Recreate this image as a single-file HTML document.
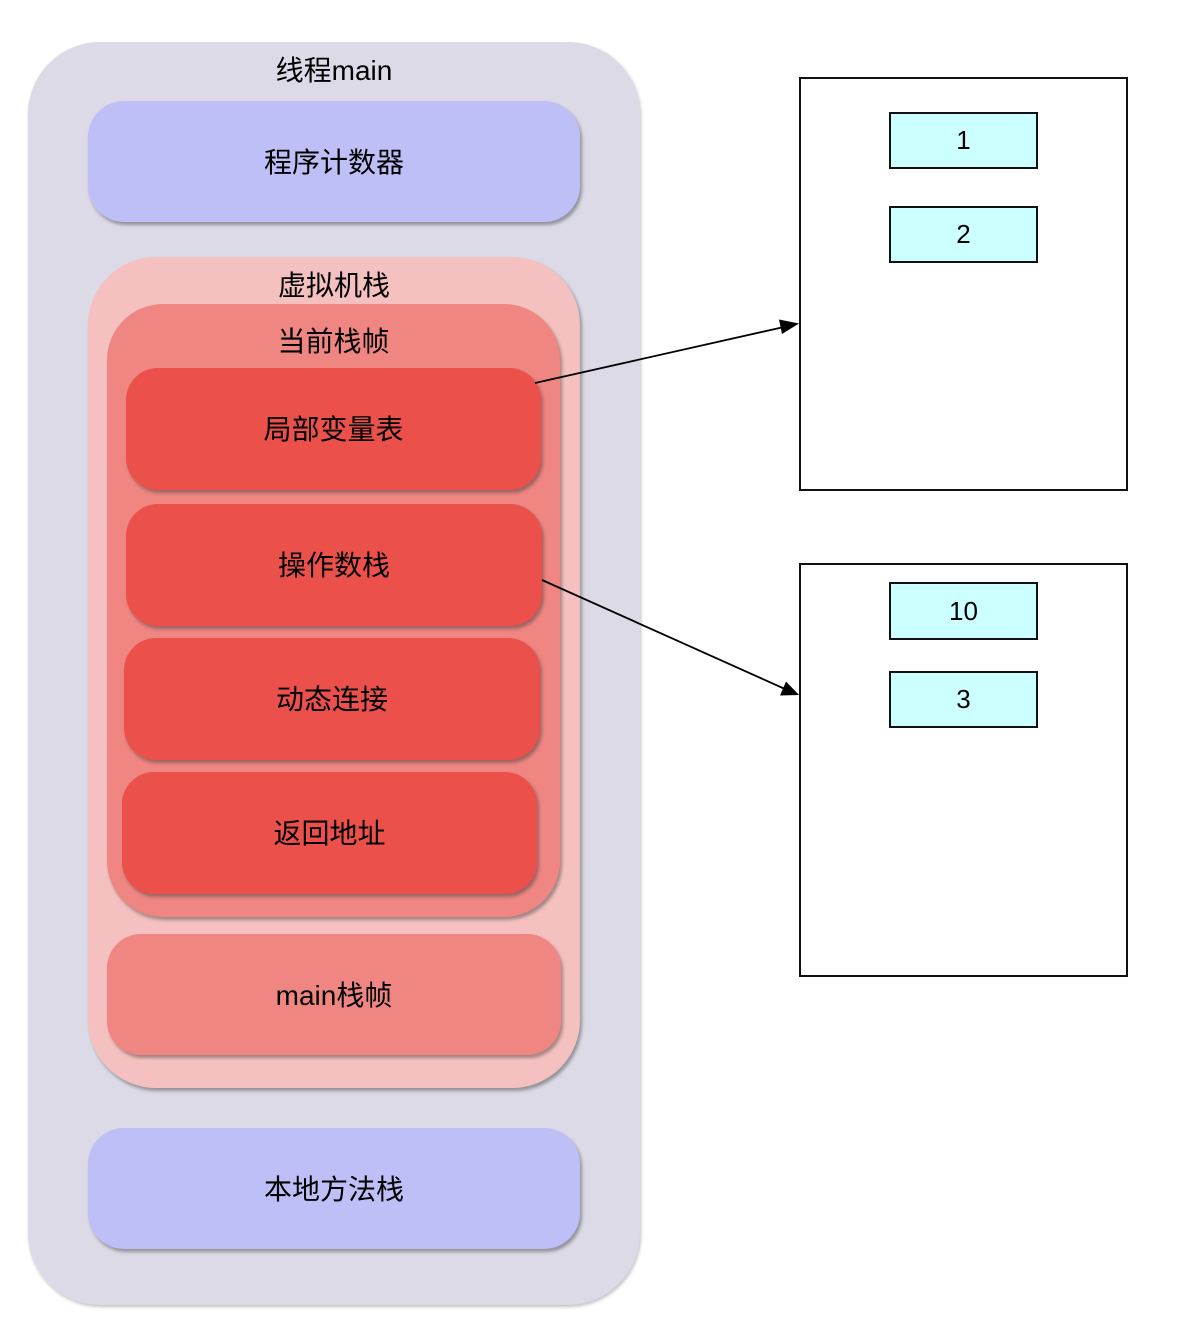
<!DOCTYPE html>
<html>
<head>
<meta charset="utf-8">
<style>
  html, body { margin:0; padding:0; background:#ffffff; }
  body { width:1190px; height:1344px; position:relative; overflow:hidden;
         font-family:"Liberation Sans","Noto Sans CJK SC",sans-serif; color:#000; }
  .b { position:absolute; box-sizing:border-box; display:flex; align-items:center; justify-content:center;
       font-size:28px; line-height:1; padding-top:2px; }
  .lbl { position:absolute; left:0; width:100%; text-align:center; font-size:28px; line-height:1; }
  .sh { box-shadow: 2px 3px 3px rgba(60,60,60,0.45); }
  .outer { left:28px; top:42px; width:612px; height:1263px; border-radius:72px; background:#dbdae6;
           box-shadow: 1px 2px 3px rgba(80,80,80,0.35); }
  .blue { background:#bfbff7; border-radius:36px; }
  .pink { background:#f5c1c0; border-radius:68px; }
  .mid { background:#ef8682; border-radius:56px; }
  .red { background:#eb504a; border-radius:32px; }
  .mframe { background:#ef8682; border-radius:34px; }
  .rbox { position:absolute; box-sizing:border-box; border:2px solid #111; background:#fff; }
  .cell { position:absolute; box-sizing:border-box; border:2px solid #111; background:#ccffff;
          display:flex; align-items:center; justify-content:center; font-size:26px; }
</style>
</head>
<body>
  <div class="b outer" style="display:block;">
    <div class="lbl" style="top:15px;">线程main</div>
  </div>

  <div class="b blue sh" style="left:88px; top:101px; width:492px; height:121px;">程序计数器</div>

  <div class="b pink sh" style="left:88px; top:257px; width:492px; height:831px; display:block;">
    <div class="lbl" style="top:15px;">虚拟机栈</div>
  </div>

  <div class="b mid sh" style="left:107px; top:304px; width:453px; height:613px; display:block;">
    <div class="lbl" style="top:24px;">当前栈帧</div>
  </div>

  <div class="b red sh" style="left:126px; top:368px; width:415px; height:122px;">局部变量表</div>
  <div class="b red sh" style="left:126px; top:504px; width:416px; height:122px;">操作数栈</div>
  <div class="b red sh" style="left:124px; top:638px; width:416px; height:122px;">动态连接</div>
  <div class="b red sh" style="left:122px; top:772px; width:415px; height:122px;">返回地址</div>

  <div class="b mframe sh" style="left:107px; top:934px; width:454px; height:121px;">main栈帧</div>

  <div class="b blue sh" style="left:88px; top:1128px; width:492px; height:121px;">本地方法栈</div>

  <div class="rbox" style="left:799px; top:77px; width:329px; height:414px;"></div>
  <div class="cell" style="left:889px; top:112px; width:149px; height:57px;">1</div>
  <div class="cell" style="left:889px; top:206px; width:149px; height:57px;">2</div>

  <div class="rbox" style="left:799px; top:563px; width:329px; height:414px;"></div>
  <div class="cell" style="left:889px; top:582px; width:149px; height:58px;">10</div>
  <div class="cell" style="left:889px; top:671px; width:149px; height:57px;">3</div>

  <svg width="1190" height="1344" style="position:absolute; left:0; top:0;" xmlns="http://www.w3.org/2000/svg">
    <line x1="535" y1="383" x2="784" y2="327" stroke="#000" stroke-width="1.8"/>
    <polygon points="799,323.5 782,334 779,319.5" fill="#000"/>
    <line x1="542" y1="580" x2="785" y2="689" stroke="#000" stroke-width="1.8"/>
    <polygon points="799,695 780,695.5 786,681.5" fill="#000"/>
  </svg>
</body>
</html>
